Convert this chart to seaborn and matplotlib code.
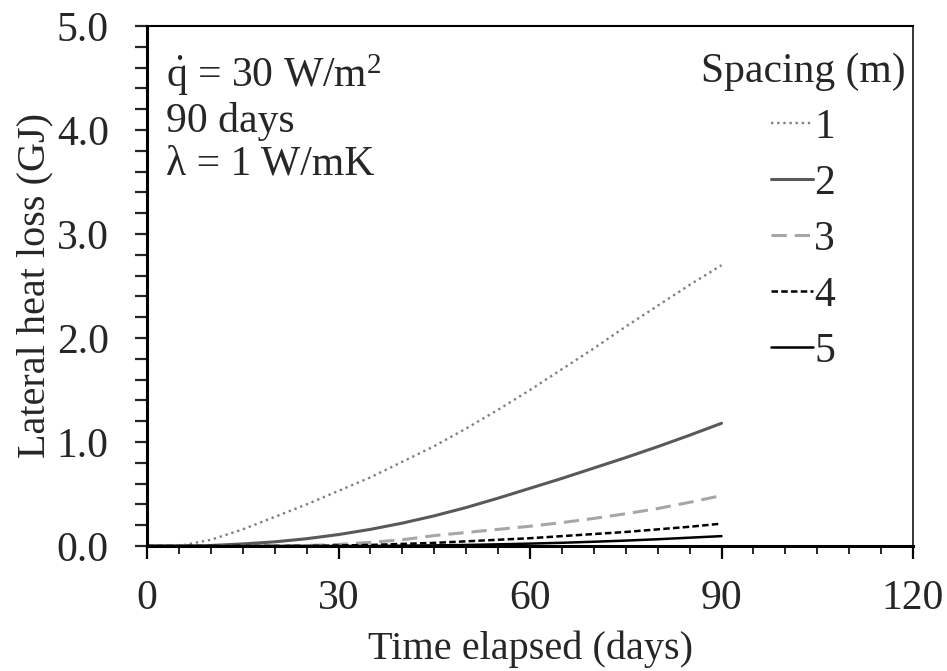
import numpy as np
import pandas as pd
import matplotlib
matplotlib.use("Agg")
import matplotlib.pyplot as plt
from matplotlib.ticker import MultipleLocator, FormatStrFormatter
import seaborn as sns

# ---- data ----
days = [0, 5, 10, 15, 20, 25, 30, 35, 40, 45, 50, 55, 60, 65, 70, 75, 80, 85, 90]
spacing_labels = ["1", "2", "3", "4", "5"]
loss_s1 = [0, 0.0, 0.06, 0.16, 0.28, 0.40, 0.53, 0.66, 0.81, 0.96, 1.13, 1.31, 1.50, 1.70, 1.90, 2.11, 2.31, 2.51, 2.70]
loss_s2 = [0, 0, 0.005, 0.02, 0.04, 0.07, 0.11, 0.16, 0.22, 0.29, 0.37, 0.46, 0.555, 0.65, 0.75, 0.85, 0.955, 1.065, 1.18]
loss_s3 = [0, 0, 0, 0, 0, 0.005, 0.015, 0.035, 0.06, 0.10, 0.13, 0.16, 0.19, 0.225, 0.265, 0.31, 0.36, 0.42, 0.485]
loss_s4 = [0, 0, 0, 0, 0, 0, 0.005, 0.01, 0.02, 0.03, 0.045, 0.06, 0.075, 0.095, 0.115, 0.135, 0.16, 0.185, 0.215]
loss_s5 = [0, 0, 0, 0, 0, 0, 0, 0, 0.003, 0.006, 0.01, 0.016, 0.023, 0.031, 0.041, 0.052, 0.065, 0.08, 0.095]
series = [loss_s1, loss_s2, loss_s3, loss_s4, loss_s5]

colors = ["#808080", "#595959", "#a6a6a6", "#000000", "#000000"]
styles = [(0, (1, 1.6)), "-", (0, (5, 2.6)), (0, (2.6, 1.3)), "-"]
widths = [1.7, 2.2, 2.2, 1.8, 1.8]

sns.set_style("ticks")
plt.rcParams["font.family"] = ["Liberation Serif", "DejaVu Serif"]
plt.rcParams["font.size"] = 30
plt.rcParams["mathtext.fontset"] = "custom"
plt.rcParams["mathtext.rm"] = "Liberation Serif"
plt.rcParams["mathtext.it"] = "Liberation Serif:italic"
plt.rcParams["mathtext.bf"] = "Liberation Serif:bold"

fig = plt.figure(figsize=(9.47, 6.71), dpi=100)
ax = fig.add_axes([147 / 947, 1 - 546 / 671, (913 - 147) / 947, (546 - 26) / 671])

for lab, vals, c, ls, lw in zip(spacing_labels, series, colors, styles, widths):
    df = pd.DataFrame({"day": days, "loss": vals})
    sns.lineplot(data=df, x="day", y="loss", ax=ax, color=c, linestyle=ls,
                 linewidth=lw, label=lab, legend=False)

ax.set_xlim(0, 120)
ax.set_ylim(0, 5)
ax.xaxis.set_major_locator(MultipleLocator(30))
ax.xaxis.set_minor_locator(MultipleLocator(5))
ax.yaxis.set_major_locator(MultipleLocator(1))
ax.yaxis.set_minor_locator(MultipleLocator(0.2))
ax.yaxis.set_major_formatter(FormatStrFormatter("%.1f"))

ax.tick_params(axis="x", which="major", direction="out", length=9, width=1.6,
               labelsize=30, pad=15, color="black")
ax.tick_params(axis="x", which="minor", direction="out", length=6, width=1.4)
ax.tick_params(axis="y", which="both", direction="out", length=8.5, width=1.6,
               labelsize=30, pad=19)

for side, lw in [("left", 2.2), ("bottom", 2.2), ("top", 1.5), ("right", 1.1)]:
    ax.spines[side].set_visible(True)
    ax.spines[side].set_linewidth(lw)
    ax.spines[side].set_color("black")

ax.set_xlabel("Time elapsed (days)", fontsize=29, labelpad=9)
ax.set_ylabel("Lateral heat loss (GJ)", fontsize=29, labelpad=2)

ax.text(0.025, 0.949, r"$\dot{\mathrm{q}}$ = 30 W/m$^{2}$" + "\n90 days\n\u03bb = 1 W/mK",
        transform=ax.transAxes, ha="left", va="top", fontsize=30,
        linespacing=1.12)

handles = ax.get_lines()[:5]
leg = ax.legend(handles, spacing_labels, title="Spacing (m)", loc="upper right",
                bbox_to_anchor=(0.99, 0.950), frameon=False, fontsize=30,
                title_fontsize=30, handlelength=1.0, handletextpad=0.04,
                labelspacing=0.42, borderpad=0, borderaxespad=0)

fig.savefig("out.png", dpi=100)
